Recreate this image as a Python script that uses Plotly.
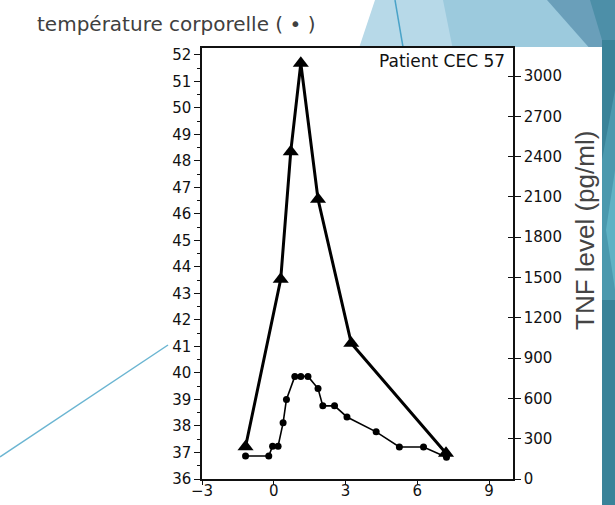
import plotly.graph_objects as go

# Temperature (left axis, circles)
temp_time = [-1.18, -0.21, -0.05, 0.18, 0.39, 0.53, 0.88, 1.13, 1.43, 1.85, 2.05, 2.54, 3.06, 4.28, 5.25, 6.26, 7.22]
temp_vals = [36.87, 36.87, 37.24, 37.24, 38.12, 39.0, 39.87, 39.87, 39.87, 39.41, 38.76, 38.76, 38.34, 37.78, 37.21, 37.21, 36.82]

# TNF level (right axis, triangles)
tnf_time = [-1.18, 0.29, 0.71, 1.13, 1.85, 3.24, 7.2]
tnf_vals = [240, 1487, 2437, 3095, 2083, 1010, 191]

left_ticks = list(range(36, 53))
right_ticks = list(range(0, 3001, 300))
x_ticks = [-3, 0, 3, 6, 9]

W, H = 615, 505
L, R, T, B = 202, 513, 48, 479

def px(x):
    return (x - L) / (R - L)

def py(y):
    return (B - y) / (B - T)

def poly(points):
    s = "M " + " L ".join(f"{px(x):.4f},{py(y):.4f}" for x, y in points) + " Z"
    return s

shapes = []
def add_poly(points, color):
    shapes.append(dict(type="path", xref="paper", yref="paper", path=poly(points),
                       fillcolor=color, line=dict(width=0), layer="below"))

# slide background decorations
add_poly([(375, 0), (615, 0), (615, 60), (355, 60)], "#b7d9e8")
add_poly([(443, 0), (615, 0), (615, 60), (455, 60)], "#9ccadd")
add_poly([(547, 0), (615, 0), (615, 60), (600, 60)], "#6a9fba")
add_poly([(590, 0), (615, 0), (615, 60), (608, 60)], "#4d8fa8")
add_poly([(602, 40), (615, 40), (615, 505), (602, 505)], "#3a8399")
add_poly([(602, 160), (615, 90), (615, 300), (602, 300)], "#4b99ae")
add_poly([(606, 230), (615, 170), (615, 290)], "#5fb2c4")
shapes.append(dict(type="line", xref="paper", yref="paper",
                   x0=px(395), y0=py(0), x1=px(403), y1=py(47),
                   line=dict(color="#4aa3c8", width=1.5), layer="below"))
# white scanned figure region
add_poly([(166, 47), (602, 47), (602, 505), (166, 505)], "#ffffff")
# thin decorative line at left
shapes.append(dict(type="line", xref="paper", yref="paper",
                   x0=px(0), y0=py(457), x1=px(168), y1=py(345),
                   line=dict(color="#6bb5d2", width=1.5), layer="below"))

fig = go.Figure()
fig.add_trace(go.Scatter(x=tnf_time, y=tnf_vals, yaxis="y2", mode="lines+markers",
                         line=dict(color="black", width=3),
                         marker=dict(symbol="triangle-up", size=14, color="black"),
                         showlegend=False, cliponaxis=False))
fig.add_trace(go.Scatter(x=temp_time, y=temp_vals, mode="lines+markers",
                         line=dict(color="black", width=1.6),
                         marker=dict(symbol="circle", size=7, color="black"),
                         showlegend=False, cliponaxis=False))
# placeholder trace so the inner tick axis (y3) is drawn
fig.add_trace(go.Scatter(x=[None], y=[None], yaxis="y3", showlegend=False, hoverinfo="skip"))

tickfont = dict(family="DejaVu Sans", size=15, color="#111")

fig.update_layout(
    width=W, height=H,
    margin=dict(l=L, r=W - R, t=T, b=H - B, autoexpand=False),
    paper_bgcolor="white", plot_bgcolor="white",
    showlegend=False,
    shapes=shapes,
    xaxis=dict(range=[-3, 10], tickvals=x_ticks, showgrid=False, zeroline=False, automargin=False,
               showline=True, linecolor="#111", linewidth=1.5, mirror=True,
               ticks="outside", ticklen=4, tickcolor="#111", tickfont=tickfont,
               ticklabelstandoff=-7),
    yaxis=dict(range=[36, 52.26], tickvals=left_ticks, showgrid=False, zeroline=False, automargin=False,
               showline=True, linecolor="#111", linewidth=1.5,
               ticks="outside", ticklen=6, tickcolor="#111", tickfont=tickfont,
               minor=dict(dtick=0.5, ticks="outside", ticklen=3, tickcolor="#111")),
    yaxis2=dict(range=[0, 3209], tickvals=right_ticks, overlaying="y", side="right", automargin=False,
                showgrid=False, zeroline=False, showline=True, linecolor="#111", linewidth=1.5,
                ticks="outside", ticklen=6, tickcolor="#111", tickfont=tickfont),
    yaxis3=dict(range=[0, 3209], tickvals=right_ticks, overlaying="y", side="right", automargin=False,
                showgrid=False, zeroline=False, showline=False, showticklabels=False,
                ticks="inside", ticklen=5, tickcolor="#111"),
    annotations=[
        dict(text="température corporelle ( • )", xref="paper", yref="paper",
             x=px(35), y=py(24), xanchor="left", yanchor="middle", showarrow=False,
             font=dict(family="DejaVu Sans", size=20, color="#404040")),
        dict(text="Patient CEC 57", xref="paper", yref="paper",
             x=px(507), y=py(61), xanchor="right", yanchor="middle", showarrow=False,
             font=dict(family="DejaVu Sans", size=17, color="#111")),
        dict(text="TNF level (pg/ml)", xref="paper", yref="paper",
             x=px(585), y=py(231), xanchor="center", yanchor="middle", showarrow=False,
             textangle=-90, font=dict(family="Liberation Sans", size=26, color="#444")),
    ],
)

fig.write_html("out.html")
